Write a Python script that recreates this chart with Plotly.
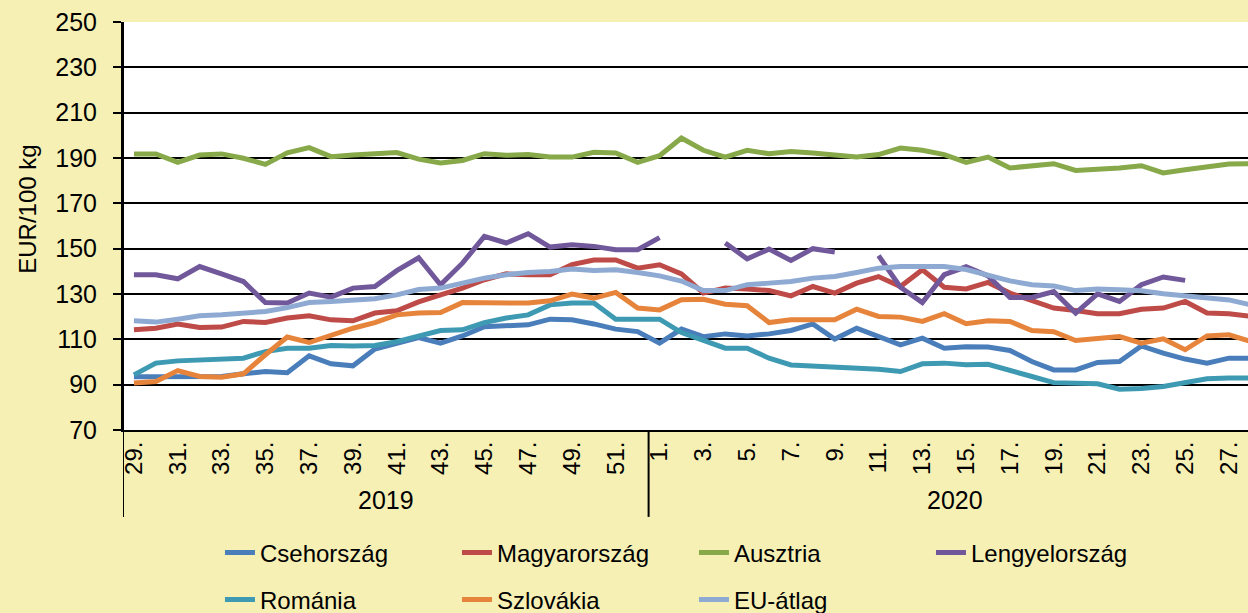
import plotly.graph_objects as go

# ---- data ----
years = ["2019"] * 24 + ["2020"] * 28
weeks = [f"{w}." for w in range(29, 53)] + [f"{w}." for w in range(1, 29)]

cseh = [93.5, 93.6, 93.9, 93.6, 93.6, 94.8, 95.8, 95.3, 102.7, 99.2, 98.3, 105.7, 108.3, 110.8,
        108.3, 111.5, 115.6, 116.0, 116.4, 118.9, 118.6, 116.8, 114.5, 113.4,
        108.3, 114.5, 111.2, 112.4, 111.5, 112.4, 113.9, 116.8, 110.1, 114.9, 111.0, 107.6,
        110.5, 106.1, 106.7, 106.6, 105.1, 100.2, 96.5, 96.5, 99.8, 100.2, 107.1, 103.9,
        101.3, 99.5, 101.7, 101.7]
magyar = [114.2, 114.9, 116.7, 115.2, 115.4, 117.9, 117.4, 119.4, 120.4, 118.6, 118.2, 121.6,
          122.6, 126.5, 129.6, 132.6, 136.3, 138.9, 138.5, 138.5, 143.0, 145.0, 145.0, 141.4,
          142.9, 138.9, 130.4, 132.6, 132.2, 131.5, 129.2, 133.3, 130.4, 134.8, 137.7, 133.3,
          140.7, 133.0, 132.2, 135.1, 130.4, 127.1, 123.8, 122.7, 121.3, 121.3, 123.3, 123.8,
          126.7, 121.6, 121.3, 120.1]
ausztria = [191.8, 191.8, 188.1, 191.3, 191.8, 189.9, 187.2, 192.3, 194.6, 190.6, 191.3, 192.0,
            192.4, 189.5, 187.8, 188.9, 191.9, 191.2, 191.5, 190.4, 190.4, 192.5, 192.2, 188.1,
            191.0, 198.8, 193.4, 190.4, 193.4, 191.9, 192.9, 192.2, 191.2, 190.4, 191.5, 194.4,
            193.4, 191.5, 188.1, 190.4, 185.6, 186.7, 187.5, 184.5, 184.8, 185.6, 186.6, 183.4,
            184.8, 186.3, 187.3, 187.5]
lengyel = [138.5, 138.5, 136.7, 142.1, 138.9, 135.5, 126.2, 126.0, 130.4, 128.6, 132.6, 133.3,
           140.3, 146.0, 134.1, 143.6, 155.4, 152.5, 156.6, 150.7, 151.7, 151.0, 149.5, 149.5,
           154.9, None, None, 152.5, 145.5, 149.8, 144.8, 150.0, 148.5, None, 146.9, 133.0,
           126.2, 138.5, 142.0, 138.0, 128.5, 128.5, 131.1, 121.6, 130.1, 126.7, 134.1, 137.5,
           136.0, None, None, None]
romania = [94.3, 99.5, 100.5, 100.8, 101.0, 101.7, 104.6, 106.1, 106.1, 107.3, 107.1, 107.3,
           109.0, 111.5, 113.9, 114.2, 117.4, 119.4, 120.8, 125.2, 126.0, 126.0, 118.9, 118.9,
           118.9, 113.0, 109.8, 106.1, 106.1, 101.7, 98.7, 98.3, 97.7, 97.3, 96.8, 95.8,
           99.2, 99.5, 98.8, 99.0, 96.5, 93.6, 90.9, 90.4, 90.4, 88.0, 88.3, 89.2,
           90.9, 92.6, 92.9, 92.9]
szlovakia = [90.7, 91.4, 96.2, 93.6, 93.3, 94.8, 103.2, 111.0, 108.6, 112.0, 114.9, 117.4,
             120.8, 121.6, 121.8, 126.2, 126.0, 125.7, 126.0, 127.0, 130.0, 128.2, 130.7, 123.8,
             123.0, 127.5, 127.7, 125.5, 124.8, 117.4, 118.6, 118.6, 118.6, 123.3, 120.1, 119.8,
             117.9, 121.3, 116.9, 118.2, 117.9, 113.9, 113.4, 109.5, 110.1, 111.2, 108.3, 110.2,
             105.4, 111.5, 112.0, 109.0]
eu = [118.2, 117.6, 118.9, 120.4, 120.8, 121.6, 122.3, 124.0, 126.2, 126.7, 127.4, 127.9,
      129.6, 132.0, 132.6, 134.8, 137.0, 138.5, 139.5, 139.9, 141.0, 140.4, 140.7, 139.5,
      138.0, 135.7, 131.5, 131.5, 134.1, 134.8, 135.5, 137.0, 137.7, 139.5, 141.4, 142.1,
      142.1, 142.1, 140.8, 138.2, 135.8, 134.1, 133.5, 131.5, 132.2, 131.9, 131.4, 130.1,
      129.2, 128.2, 127.4, 125.2]

series = [
    ("Csehország", cseh, "#4A7EBB", "legend"),
    ("Magyarország", magyar, "#BE4B48", "legend"),
    ("Ausztria", ausztria, "#87A94A", "legend"),
    ("Lengyelország", lengyel, "#71589B", "legend"),
    ("Románia", romania, "#3E9AB2", "legend2"),
    ("Szlovákia", szlovakia, "#E7843B", "legend2"),
    ("EU-átlag", eu, "#8EAAD3", "legend2"),
]

FONT = "Liberation Sans, Arial, sans-serif"
xidx = list(range(len(weeks)))

fig = go.Figure()
for name, vals, color, lg in series:
    fig.add_trace(go.Scatter(
        x=xidx, y=vals, name=name, mode="lines",
        line=dict(color=color, width=5), connectgaps=False, legend=lg,
    ))

tickvals = xidx[::2]
ticktext = weeks[::2]

fig.update_layout(
    width=1248, height=613,
    margin=dict(l=123, r=0, t=22, b=183, autoexpand=False),
    paper_bgcolor="#F6F0B5",
    plot_bgcolor="#FFFFFF",
    font=dict(family=FONT, color="black", size=24),
    showlegend=True,
    legend=dict(orientation="h", x=0.0862, xanchor="left", y=-0.3015, yanchor="middle",
                font=dict(size=24), entrywidth=192, bgcolor="rgba(0,0,0,0)"),
    legend2=dict(orientation="h", x=0.0862, xanchor="left", y=-0.4167, yanchor="middle",
                 font=dict(size=24), entrywidth=192, bgcolor="rgba(0,0,0,0)"),
    xaxis=dict(range=[-0.5, 50.87], tickmode="array", tickvals=tickvals, ticktext=ticktext,
               tickangle=-90, ticks="", showgrid=False, zeroline=False,
               showline=True, linecolor="black", linewidth=2,
               tickfont=dict(size=24, family=FONT)),
    yaxis=dict(range=[70, 250], dtick=20, tick0=70, showgrid=True, gridcolor="black",
               gridwidth=2, zeroline=False, showline=True, linecolor="black", linewidth=2,
               ticks="outside", ticklen=8, tickwidth=2, tickcolor="black",
               ticklabelstandoff=11, tickfont=dict(size=25, family=FONT)),
    annotations=[
        dict(text="EUR/100 kg", xref="paper", yref="paper", x=-0.0844, y=0.54,
             textangle=-90, showarrow=False, font=dict(size=24, family=FONT),
             xanchor="center", yanchor="middle"),
        dict(text="2019", xref="x", yref="paper", x=11.5, y=-0.1716, showarrow=False,
             font=dict(size=25, family=FONT), xanchor="center", yanchor="middle"),
        dict(text="2020", xref="x", yref="paper", x=37.5, y=-0.1716, showarrow=False,
             font=dict(size=25, family=FONT), xanchor="center", yanchor="middle"),
    ],
    shapes=[
        dict(type="line", xref="x", yref="paper", x0=-0.5, x1=-0.5, y0=1, y1=-0.213,
             line=dict(color="black", width=2)),
        dict(type="line", xref="x", yref="paper", x0=23.5, x1=23.5, y0=0, y1=-0.213,
             line=dict(color="black", width=2)),
    ],
)

fig.write_html("out.html",
               config={"displayModeBar": False},
               post_script="document.body.style.margin='0';document.body.style.padding='0';"
                           "document.documentElement.style.overflow='hidden';")
